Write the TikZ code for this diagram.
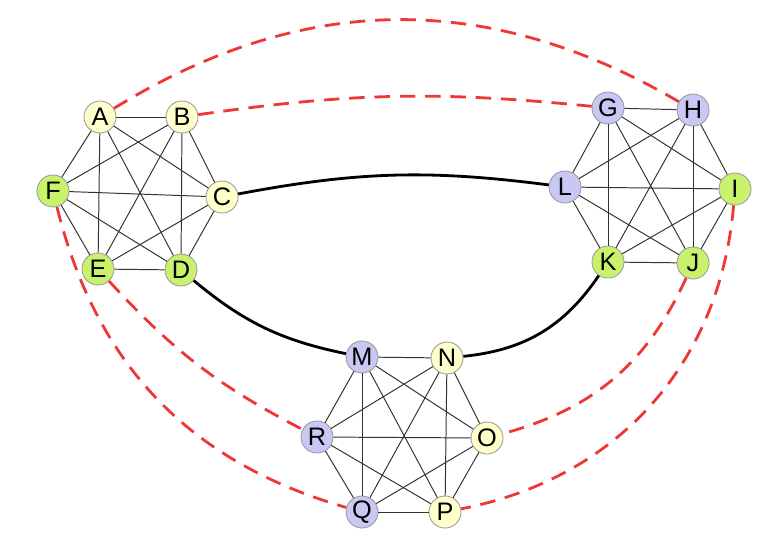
\documentclass[tikz,border=0pt]{standalone}
\usepackage{fontspec}
\setmainfont{Liberation Sans}
\usetikzlibrary{positioning}
\definecolor{nodeyellow}{HTML}{FFFFCC}
\definecolor{nodegreen}{HTML}{C8F26C}
\definecolor{nodeblue}{HTML}{C8C8F4}
\definecolor{linkred}{HTML}{EE3838}
\begin{document}
\begin{tikzpicture}[
    x=0.025cm, y=-0.025cm,
    vertex/.style={
        circle, draw=black!40, line width=0.6pt,
        minimum size=0.8cm, inner sep=0pt, font=\fontsize{18}{18}\selectfont
    },
    yel/.style={vertex, fill=nodeyellow},
    grn/.style={vertex, fill=nodegreen},
    blu/.style={vertex, fill=nodeblue},
    edge/.style={line width=0.7pt, black!80},
    bridge/.style={line width=2pt, black},
    cross/.style={line width=2pt, linkred, dash pattern=on 11pt off 7pt},
]
\useasboundingbox (0,0) rectangle (780,542);

% ── Cluster 1 ──
\node[yel] (A) at (100,117) {A};
\node[yel] (B) at (182,117) {B};
\node[yel] (C) at (222,197) {C};
\node[grn] (D) at (181,270) {D};
\node[grn] (E) at (98,269)  {E};
\node[grn] (F) at (53,191)  {F};

% ── Cluster 2 ──
\node[blu] (G) at (608,108) {G};
\node[blu] (H) at (693,110) {H};
\node[grn] (I) at (735,189) {I};
\node[grn] (J) at (693,263) {J};
\node[grn] (K) at (608,262) {K};
\node[blu] (L) at (565,187) {L};

% ── Cluster 3 ──
\node[blu] (M) at (362,357) {M};
\node[yel] (N) at (447,358) {N};
\node[yel] (O) at (487,438) {O};
\node[yel] (P) at (445,512) {P};
\node[blu] (Q) at (362,512) {Q};
\node[blu] (R) at (317,437) {R};

% ── Complete graphs inside each cluster ──
\foreach \u [count=\i] in {A,...,F}
    \foreach \v [count=\j] in {A,...,F}
        {\ifnum\i<\j \draw[edge] (\u) -- (\v); \fi}
\foreach \u [count=\i] in {G,...,L}
    \foreach \v [count=\j] in {G,...,L}
        {\ifnum\i<\j \draw[edge] (\u) -- (\v); \fi}
\foreach \u [count=\i] in {M,...,R}
    \foreach \v [count=\j] in {M,...,R}
        {\ifnum\i<\j \draw[edge] (\u) -- (\v); \fi}

% ── Links between clusters ──
\draw[bridge] (C) to[bend left=9] (L);
\draw[bridge] (D) to[bend right=14] (M);
\draw[bridge] (N) to[bend right=25] (K);

% ── Dashed links ──
\draw[cross] (A) to[bend left=31] (H);
\draw[cross] (B) to[bend left=7] (G);
\draw[cross] (F) to[bend right=30] (Q);
\draw[cross] (E) to[bend right=10] (R);
\draw[cross] (I) to[bend left=37] (P);
\draw[cross] (J) to[bend left=25] (O);

\end{tikzpicture}
\end{document}
